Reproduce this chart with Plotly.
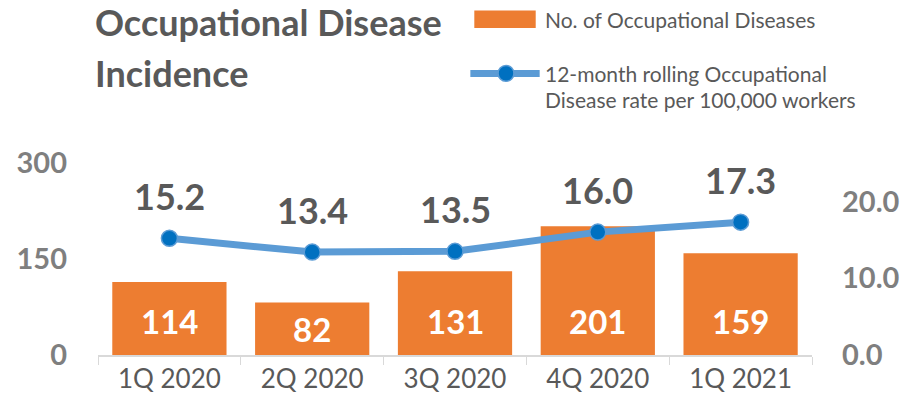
import plotly.graph_objects as go

categories = ["1Q 2020", "2Q 2020", "3Q 2020", "4Q 2020", "1Q 2021"]
cases = [114, 82, 131, 201, 159]
rate = [15.2, 13.4, 13.5, 16.0, 17.3]
left_ticks = [0, 150, 300]
right_ticks = [0, 10, 20]
title_lines = ["Occupational Disease", "Incidence"]
legend_bar = "No. of Occupational Diseases"
legend_line = ["12-month rolling Occupational", "Disease rate per 100,000 workers"]

FONT = "Lato"
DARK = "#595959"
GRAY = "#7f7f7f"
ORANGE = "#ed7d31"
BLUE = "#5b9bd5"
DBLUE = "#0070c0"

W, H = 912, 406
L, R, T, B = 98, 93, 163, 48


def px(x):
    return (x - L) / (W - L - R)


def py(y):
    return (H - B - y) / (H - T - B)


fig = go.Figure()
fig.add_trace(go.Bar(x=categories, y=cases, marker=dict(color=ORANGE, line=dict(width=0)),
                     name=legend_bar, showlegend=False))
fig.add_trace(go.Scatter(x=categories, y=rate, yaxis="y2", mode="lines+markers",
                         line=dict(color=BLUE, width=7),
                         marker=dict(color=DBLUE, size=16, line=dict(color=BLUE, width=1.5)),
                         name=" ".join(legend_line), showlegend=False))

ann = []
for c, v in zip(categories, cases):
    ann.append(dict(x=c, y=min(v / 2, 53), xref="x", yref="y", text=f"<b>{v}</b>", showarrow=False,
                    font=dict(family=FONT, size=33, color="white"), yanchor="middle"))
for c, r in zip(categories, rate):
    ann.append(dict(x=c, y=r, xref="x", yref="y2", text=f"<b>{r:.1f}</b>", showarrow=False,
                    font=dict(family=FONT, size=36, color=DARK), yanchor="middle", yshift=42))

for t, yy in zip(title_lines, [20, 72]):
    ann.append(dict(x=px(93), y=py(yy), xref="paper", yref="paper", xanchor="left", yanchor="middle",
                    text=f"<b>{t}</b>", showarrow=False,
                    font=dict(family=FONT, size=36, color=DARK)))
for t, yy in zip([legend_bar] + legend_line, [17, 72, 99]):
    ann.append(dict(x=px(547), y=py(yy), xref="paper", yref="paper", xanchor="left", yanchor="middle",
                    text=t, showarrow=False, font=dict(family=FONT, size=21, color=DARK)))

shapes = [
    dict(type="rect", xref="paper", yref="paper", x0=px(478), x1=px(540), y0=py(8), y1=py(26),
         fillcolor=ORANGE, line=dict(width=0)),
    dict(type="line", xref="paper", yref="paper", x0=px(474), x1=px(544), y0=py(72), y1=py(72),
         line=dict(color=BLUE, width=7)),
    dict(type="circle", xref="paper", yref="paper", x0=px(502), x1=px(518), y0=py(64), y1=py(80),
         fillcolor=DBLUE, line=dict(color=BLUE, width=1.5)),
]

fig.update_layout(
    width=W, height=H, margin=dict(l=L, r=R, t=T, b=B),
    paper_bgcolor="white", plot_bgcolor="white",
    bargap=0.2, annotations=ann, shapes=shapes,
    xaxis=dict(type="category", showline=True, linecolor="#d9d9d9", linewidth=1.5,
               ticks="outside", tickson="boundaries", ticklen=8, tickcolor="#d9d9d9",
               tickfont=dict(family=FONT, size=26, color=DARK), showgrid=False),
    yaxis=dict(range=[0, 300], tickvals=left_ticks, ticktext=[f"<b>{v}</b>" for v in left_ticks],
               showgrid=False, zeroline=False, showline=False, ticklabelstandoff=30,
               tickfont=dict(family=FONT, size=29, color=GRAY)),
    yaxis2=dict(range=[0, 25], tickvals=right_ticks, ticktext=[f"<b>{v:.1f}</b>" for v in right_ticks],
                overlaying="y", side="right", showgrid=False, zeroline=False, showline=False,
                ticklabelstandoff=29, tickfont=dict(family=FONT, size=29, color=GRAY)),
)

fig.write_html("out.html", config={"displayModeBar": False},
               post_script="document.body.style.margin='0';document.body.style.overflow='hidden';")
